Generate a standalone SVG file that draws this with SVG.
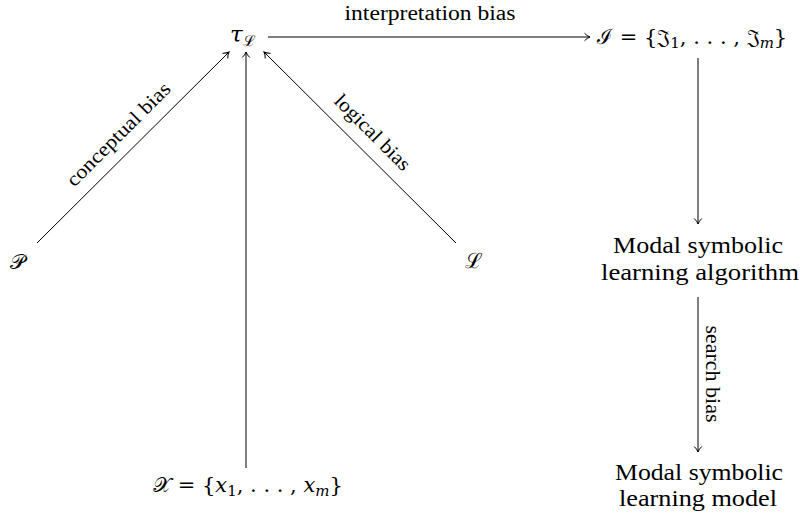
<svg xmlns="http://www.w3.org/2000/svg" width="800" height="517" viewBox="0 0 800 517">
<defs>
<marker id="to" markerWidth="12" markerHeight="12" refX="9" refY="6" orient="auto" markerUnits="userSpaceOnUse">
<path d="M3.5,2.2 Q6,5 9,6 Q6,7 3.5,9.8" fill="none" stroke="#000" stroke-width="1"/>
</marker>
<style>
.t{font-family:"Liberation Serif","DejaVu Serif",serif;font-size:24px;fill:#000}
.l{font-family:"Liberation Serif","DejaVu Serif",serif;font-size:20px;fill:#000}
.m{font-family:"DejaVu Serif","Liberation Serif",serif;font-size:21px;fill:#000}
.i{font-style:italic}
.e{stroke:#000;stroke-width:1;fill:none;marker-end:url(#to)}
</style>
</defs>
<g id="connectors">
<line class="e" x1="268" y1="37" x2="590" y2="37"/>
<line class="e" x1="37" y1="243" x2="229" y2="52"/>
<line class="e" x1="246" y1="468" x2="246" y2="52"/>
<line class="e" x1="456" y1="243" x2="264" y2="52"/>
<line class="e" x1="698" y1="58" x2="698" y2="224"/>
<line class="e" x1="698" y1="297" x2="698" y2="452"/>
<text class="l" x="430" y="20" text-anchor="middle" textLength="171" lengthAdjust="spacingAndGlyphs">interpretation bias</text>
<text class="l" transform="translate(123,139) rotate(-45)" text-anchor="middle" textLength="138" lengthAdjust="spacingAndGlyphs">conceptual bias</text>
<text class="l" transform="translate(368,137) rotate(45)" text-anchor="middle" textLength="99" lengthAdjust="spacingAndGlyphs">logical bias</text>
<text class="l" transform="translate(706,374) rotate(90)" text-anchor="middle" textLength="97" lengthAdjust="spacingAndGlyphs">search bias</text>
</g>
<g id="tau"><text class="m" x="230" y="42"><tspan class="i" font-size="23">τ</tspan><tspan font-size="15" dy="4">ℒ</tspan></text></g>
<g id="I"><text class="m" x="597" y="44" font-size="22">ℐ = {𝔍<tspan font-size="15" dy="4">1</tspan><tspan dy="-4">, . . . , 𝔍</tspan><tspan class="i" font-size="15" dy="4">m</tspan><tspan dy="-4">}</tspan></text></g>
<g id="P"><text class="m" x="10" y="269">𝒫</text></g>
<g id="L"><text class="m" x="465" y="268">ℒ</text></g>
<g id="X"><text class="m" x="153" y="492">𝒳 = {<tspan class="i">x</tspan><tspan font-size="15" dy="4">1</tspan><tspan dy="-4">, . . . , </tspan><tspan class="i">x</tspan><tspan class="i" font-size="15" dy="4">m</tspan><tspan dy="-4">}</tspan></text></g>
<g id="algorithm"><text class="t" x="698" y="253" text-anchor="middle" textLength="170" lengthAdjust="spacingAndGlyphs">Modal symbolic</text><text class="t" x="700" y="280" text-anchor="middle" textLength="198" lengthAdjust="spacingAndGlyphs">learning algorithm</text></g>
<g id="model"><text class="t" x="699" y="480" text-anchor="middle" textLength="168" lengthAdjust="spacingAndGlyphs">Modal symbolic</text><text class="t" x="698" y="506" text-anchor="middle" textLength="158" lengthAdjust="spacingAndGlyphs">learning model</text></g>
</svg>
